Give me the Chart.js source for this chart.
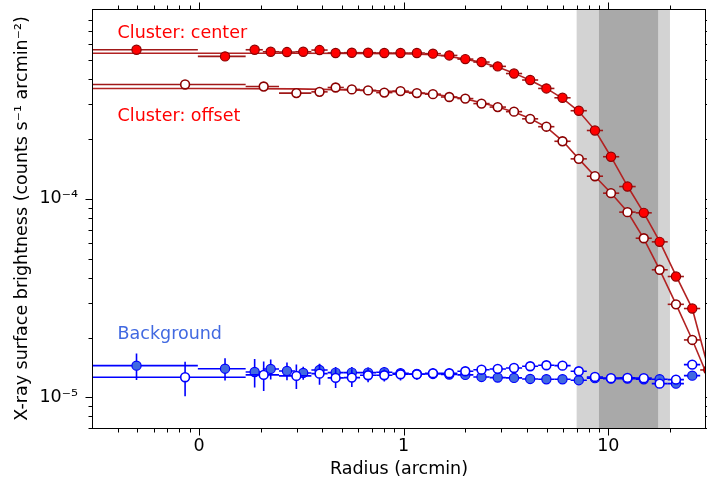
<!DOCTYPE html>
<html>
<head>
<meta charset="utf-8">
<script src="https://cdn.jsdelivr.net/npm/chart.js@4.4.1/dist/chart.umd.min.js"></script>
<style>
  html, body { margin: 0; padding: 0; background: #fff; }
</style>
</head>
<body>
<canvas id="chart" width="707" height="482"></canvas>
<script>
// cluster centre pointing: bin centres, bin edges (arcmin) and brightness
const centerRadius = [0.0495, 0.134, 0.187, 0.224, 0.269, 0.323, 0.388, 0.465, 0.558, 0.670, 0.804, 0.965,
  1.16, 1.39, 1.67, 2.00, 2.40, 2.88, 3.46, 4.15, 4.98, 5.97, 7.17, 8.60, 10.3, 12.4, 14.9, 17.8, 21.4, 25.7, 30.8]
const centerBinEdges = [0.02, 0.0987, 0.169, 0.205, 0.246, 0.295, 0.354, 0.425, 0.510, 0.612, 0.734, 0.881, 1.06,
  1.27, 1.52, 1.83, 2.19, 2.63, 3.16, 3.79, 4.54, 5.45, 6.54, 7.85, 9.42, 11.3, 13.6, 16.3, 19.5, 23.4, 28.1, 33.8]
const centerFlux = [5.64e-4, 5.22e-4, 5.64e-4, 5.51e-4, 5.49e-4, 5.51e-4, 5.62e-4, 5.43e-4, 5.45e-4, 5.45e-4,
  5.43e-4, 5.43e-4, 5.43e-4, 5.39e-4, 5.28e-4, 5.06e-4, 4.89e-4, 4.65e-4, 4.28e-4, 3.97e-4, 3.60e-4, 3.23e-4,
  2.78e-4, 2.21e-4, 1.63e-4, 1.153e-4, 8.50e-5, 6.07e-5, 4.06e-5, 2.80e-5, 1.373e-5]
const centerBgFlux = [1.443e-5, 1.393e-5, 1.341e-5, 1.389e-5, 1.357e-5, 1.326e-5, 1.373e-5, 1.331e-5, 1.331e-5,
  1.331e-5, 1.337e-5, 1.321e-5, 1.311e-5, 1.311e-5, 1.303e-5, 1.296e-5, 1.266e-5, 1.256e-5, 1.252e-5, 1.237e-5,
  1.233e-5, 1.233e-5, 1.219e-5, 1.248e-5, 1.242e-5, 1.242e-5, 1.233e-5, 1.233e-5, 1.171e-5, 1.285e-5, null]
const centerBgErr = [2.2e-6, 1.8e-6, 2.2e-6, 1.6e-6, 1.4e-6, 1.0e-6, 1.0e-6, 0.9e-6, 0.9e-6, 0.8e-6, 0.8e-6,
  0.7e-6, 0.7e-6, 0.7e-6, 0.6e-6, 0.6e-6, 0.6e-6, 0.5e-6, 0.5e-6, 0.5e-6, 0.5e-6, 0.5e-6, 0.4e-6, 0.4e-6,
  0.4e-6, 0.4e-6, 0.4e-6, 0.4e-6, 0.4e-6, 0.5e-6, 0]

// offset pointing
const offsetRadius = [0.0855, 0.207, 0.299, 0.388, 0.465, 0.558, 0.670, 0.804, 0.965, 1.16, 1.39, 1.67, 2.00,
  2.40, 2.88, 3.46, 4.15, 4.98, 5.97, 7.17, 8.60, 10.3, 12.4, 14.9, 17.8, 21.4, 25.7]
const offsetBinEdges = [0.02, 0.169, 0.246, 0.354, 0.425, 0.510, 0.612, 0.734, 0.881, 1.06, 1.27, 1.52, 1.83,
  2.19, 2.63, 3.16, 3.79, 4.54, 5.45, 6.54, 7.85, 9.42, 11.3, 13.6, 16.3, 19.5, 23.4, 28.1]
const offsetFlux = [3.77e-4, 3.68e-4, 3.41e-4, 3.46e-4, 3.64e-4, 3.56e-4, 3.52e-4, 3.43e-4, 3.49e-4, 3.41e-4,
  3.37e-4, 3.26e-4, 3.20e-4, 3.02e-4, 2.90e-4, 2.75e-4, 2.53e-4, 2.31e-4, 1.95e-4, 1.59e-4, 1.30e-4, 1.068e-4,
  8.57e-5, 6.33e-5, 4.39e-5, 2.94e-5, 1.945e-5]
const offsetBgFlux = [1.262e-5, 1.296e-5, 1.281e-5, 1.315e-5, 1.252e-5, 1.256e-5, 1.291e-5, 1.291e-5, 1.306e-5,
  1.306e-5, 1.321e-5, 1.321e-5, 1.352e-5, 1.377e-5, 1.389e-5, 1.405e-5, 1.433e-5, 1.450e-5, 1.443e-5, 1.352e-5,
  1.266e-5, 1.248e-5, 1.252e-5, 1.248e-5, 1.171e-5, 1.227e-5, 1.460e-5]
const offsetBgErr = [2.5e-6, 2.2e-6, 1.8e-6, 1.6e-6, 1.4e-6, 1.3e-6, 1.0e-6, 0.9e-6, 0.9e-6, 0.8e-6, 0.8e-6,
  0.8e-6, 0.7e-6, 0.7e-6, 0.7e-6, 0.6e-6, 0.6e-6, 0.6e-6, 0.6e-6, 0.6e-6, 0.5e-6, 0.5e-6, 0.5e-6, 0.5e-6,
  0.5e-6, 0.5e-6, 0.5e-6]

// model curves
const modelRadius = [0.02, 0.1, 0.3, 0.6, 1.0, 1.39, 1.67, 2.0, 2.4, 2.88, 3.46, 4.15, 4.98, 5.97, 7.17, 8.6,
  10.3, 12.4, 14.9, 17.8, 21.4, 25.7, 30.8]
const centerModel = [5.42e-4, 5.42e-4, 5.42e-4, 5.41e-4, 5.38e-4, 5.32e-4, 5.22e-4, 5.06e-4, 4.87e-4, 4.62e-4,
  4.30e-4, 3.96e-4, 3.60e-4, 3.21e-4, 2.76e-4, 2.22e-4, 1.63e-4, 1.16e-4, 8.5e-5, 6.1e-5, 4.1e-5, 2.8e-5, 1.40e-5]
const offsetModel = [3.60e-4, 3.60e-4, 3.58e-4, 3.53e-4, 3.46e-4, 3.37e-4, 3.28e-4, 3.19e-4, 3.05e-4, 2.90e-4,
  2.74e-4, 2.54e-4, 2.30e-4, 1.96e-4, 1.59e-4, 1.30e-4, 1.07e-4, 8.6e-5, 6.3e-5, 4.4e-5, 2.95e-5, 1.95e-5, 1.25e-5]

// shaded radius ranges
const outerBand = [7, 20]
const innerBand = [9, 17.5]

// axes
const xRange = [0.03, 30]
const yRange = [7e-6, 9.05e-4]
const xTicks = [0.1, 1, 10]
const xTickLabels = ['0', '1', '10']
const xMinorTicks = [0.04, 0.05, 0.06, 0.07, 0.08, 0.09, 0.2, 0.3, 0.4, 0.5, 0.6, 0.7, 0.8, 0.9,
  2, 3, 4, 5, 6, 7, 8, 9, 20]
const yTicks = [1e-5, 1e-4]
const yTickLabels = ['10\u207B\u2075', '10\u207B\u2074']
const yMinorTicks = [7e-6, 8e-6, 9e-6, 2e-5, 3e-5, 4e-5, 5e-5, 6e-5, 7e-5, 8e-5, 9e-5,
  2e-4, 3e-4, 4e-4, 5e-4, 6e-4, 7e-4, 8e-4]

const seriesLabels = [
  { text: 'Cluster: center', x: 0.04, y: 6.46e-4, color: '#ff0000' },
  { text: 'Cluster: offset', x: 0.04, y: 2.48e-4, color: '#ff0000' },
  { text: 'Background', x: 0.04, y: 1.97e-5, color: '#4169e1' }
]

const FONT = 'DejaVu Sans'
Chart.defaults.font.family = FONT
Chart.defaults.font.size = 17.5
Chart.defaults.color = '#000'

const toPoints = (xs, ys) => xs.map((x, i) => ({ x: x, y: ys[i] }))

const shadedBands = {
  id: 'shadedBands',
  beforeDatasetsDraw(chart) {
    const { ctx, chartArea: a, scales: { x } } = chart
    ctx.save()
    ctx.fillStyle = '#d3d3d3'
    let l = x.getPixelForValue(outerBand[0]), r = x.getPixelForValue(outerBand[1])
    ctx.fillRect(l, a.top, r - l, a.bottom - a.top)
    ctx.fillStyle = '#a9a9a9'
    l = x.getPixelForValue(innerBand[0]); r = x.getPixelForValue(innerBand[1])
    ctx.fillRect(l, a.top, r - l, a.bottom - a.top)
    ctx.restore()
  }
}

// horizontal bars = radial bin, vertical bars = brightness error
const errorBars = {
  id: 'errorBars',
  beforeDatasetDraw(chart, args) {
    const ds = chart.data.datasets[args.index]
    const eb = ds.errorBars
    if (!eb) return
    const { ctx, chartArea: a, scales: { x, y } } = chart
    ctx.save()
    ctx.beginPath()
    ctx.rect(a.left, a.top, a.right - a.left, a.bottom - a.top)
    ctx.clip()
    ctx.strokeStyle = eb.color
    ctx.lineWidth = 1.6
    ds.data.forEach((p, i) => {
      if (p.y == null) return
      const py = y.getPixelForValue(p.y)
      ctx.beginPath()
      ctx.moveTo(x.getPixelForValue(eb.edges[i]), py)
      ctx.lineTo(x.getPixelForValue(eb.edges[i + 1]), py)
      if (eb.yErr && eb.yErr[i]) {
        const px = x.getPixelForValue(p.x)
        ctx.moveTo(px, y.getPixelForValue(p.y + eb.yErr[i]))
        ctx.lineTo(px, y.getPixelForValue(p.y - eb.yErr[i]))
      }
      ctx.stroke()
    })
    ctx.restore()
  }
}

const frameAndTicks = {
  id: 'frameAndTicks',
  afterDatasetsDraw(chart) {
    const { ctx, chartArea: a, scales: { x, y } } = chart
    const L = Math.floor(a.left) + 0.5, R = Math.floor(a.right) - 0.5
    const T = Math.floor(a.top) + 0.5, B = Math.floor(a.bottom) + 0.5
    ctx.save()
    ctx.strokeStyle = '#000'
    ctx.lineWidth = 1
    ctx.strokeRect(L, T, R - L, B - T)
    const xTick = (v, len) => {
      const px = Math.round(x.getPixelForValue(v)) + 0.5
      ctx.moveTo(px, B); ctx.lineTo(px, B + len)
      ctx.moveTo(px, T); ctx.lineTo(px, T - len)
    }
    const yTick = (v, len) => {
      const py = Math.round(y.getPixelForValue(v)) + 0.5
      ctx.moveTo(L, py); ctx.lineTo(L - len, py)
      ctx.moveTo(R, py); ctx.lineTo(R + len, py)
    }
    ctx.beginPath()
    xTicks.forEach(v => xTick(v, 7))
    xMinorTicks.forEach(v => xTick(v, 4))
    yTicks.forEach(v => yTick(v, 7))
    yMinorTicks.forEach(v => yTick(v, 4))
    ctx.stroke()

    ctx.font = '17.5px "' + FONT + '"'
    ctx.textAlign = 'left'
    ctx.textBaseline = 'alphabetic'
    seriesLabels.forEach(s => {
      ctx.fillStyle = s.color
      ctx.fillText(s.text, x.getPixelForValue(s.x), y.getPixelForValue(s.y))
    })
    ctx.restore()
  }
}

const datasets = [
  {
    label: 'center model', data: toPoints(modelRadius, centerModel), showLine: true,
    borderColor: '#b22222', borderWidth: 1.6, pointRadius: 0, order: 10
  },
  {
    label: 'offset model', data: toPoints(modelRadius, offsetModel), showLine: true,
    borderColor: '#b22222', borderWidth: 1.6, pointRadius: 0, order: 9
  },
  {
    label: 'Cluster: center', data: toPoints(centerRadius, centerFlux),
    backgroundColor: '#ff0000', borderColor: '#8b0000', borderWidth: 1.2, pointRadius: 4.6, order: 4,
    errorBars: { edges: centerBinEdges, color: '#a01818' }
  },
  {
    label: 'Cluster: offset', data: toPoints(offsetRadius, offsetFlux),
    backgroundColor: '#ffffff', borderColor: '#8b0000', borderWidth: 1.6, pointRadius: 4.4, order: 3,
    errorBars: { edges: offsetBinEdges, color: '#a01818' }
  },
  {
    label: 'Background (center)', data: toPoints(centerRadius, centerBgFlux),
    backgroundColor: '#4169e1', borderColor: '#0000ff', borderWidth: 1.2, pointRadius: 4.6, order: 2,
    errorBars: { edges: centerBinEdges, yErr: centerBgErr, color: '#0000ff' }
  },
  {
    label: 'Background (offset)', data: toPoints(offsetRadius, offsetBgFlux),
    backgroundColor: '#ffffff', borderColor: '#0000ff', borderWidth: 1.6, pointRadius: 4.4, order: 1,
    errorBars: { edges: offsetBinEdges, yErr: offsetBgErr, color: '#0000ff' }
  }
]

// keep the plot box where the reference has it: no label overhang padding
const fixX = s => { s.height = 54; s.paddingLeft = 0; s.paddingRight = 0 }
const fixY = s => { s.width = 92; s.paddingTop = 0; s.paddingBottom = 0 }

new Chart(document.getElementById('chart'), {
  type: 'scatter',
  data: { datasets: datasets },
  options: {
    responsive: false,
    animation: false,
    devicePixelRatio: 1,
    layout: { autoPadding: false, padding: { top: 9, right: 1, left: 0, bottom: 0 } },
    plugins: { legend: { display: false }, tooltip: { enabled: false } },
    scales: {
      x: {
        type: 'logarithmic', min: xRange[0], max: xRange[1],
        afterBuildTicks: s => { s.ticks = xTicks.map(v => ({ value: v })) },
        afterFit: fixX,
        grid: { display: false, drawTicks: false },
        border: { display: false },
        ticks: {
          autoSkip: false, maxRotation: 0, padding: 8,
          callback: (v, i) => xTickLabels[i]
        },
        title: { display: true, text: 'Radius (arcmin)', padding: { top: 0, bottom: 2 } }
      },
      y: {
        type: 'logarithmic', min: yRange[0], max: yRange[1],
        afterBuildTicks: s => { s.ticks = yTicks.map(v => ({ value: v })) },
        afterFit: fixY,
        grid: { display: false, drawTicks: false },
        border: { display: false },
        ticks: {
          autoSkip: false, padding: 14,
          callback: (v, i) => yTickLabels[i]
        },
        title: {
          display: true,
          text: 'X-ray surface brightness (counts s\u207B\u00B9 arcmin\u207B\u00B2)',
          padding: { top: 12, bottom: 0 }
        }
      }
    }
  },
  plugins: [shadedBands, errorBars, frameAndTicks]
})
</script>
</body>
</html>
